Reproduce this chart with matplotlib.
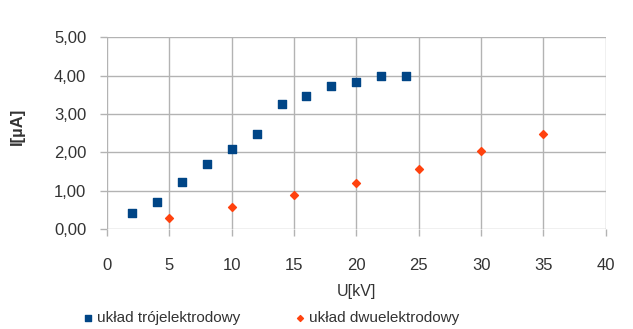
import matplotlib.pyplot as plt
from matplotlib.ticker import FuncFormatter

plt.rcParams['font.family'] = ['Liberation Sans', 'DejaVu Sans']

# data
u_troj = [2, 4, 6, 8, 10, 12, 14, 16, 18, 20, 22, 24]
i_troj = [0.42, 0.70, 1.22, 1.69, 2.10, 2.47, 3.25, 3.47, 3.73, 3.83, 3.99, 3.99]
u_dwu = [5, 10, 15, 20, 25, 30, 35]
i_dwu = [0.29, 0.59, 0.89, 1.20, 1.57, 2.03, 2.48]

label_troj = 'układ trójelektrodowy'
label_dwu = 'układ dwuelektrodowy'

txt = '#333333'
grid_c = '#b3b3b3'

fig = plt.figure(figsize=(6.33, 3.29), dpi=100)
ax = fig.add_axes([0.169, 0.303, 0.788, 0.584])

ax.scatter(u_troj, i_troj, marker='s', s=36, color='#004586', label=label_troj, zorder=3)
ax.scatter(u_dwu, i_dwu, marker='D', s=16, color='#ff420e', label=label_dwu, zorder=3)

ax.set_xlim(0, 40)
ax.set_ylim(0, 5)
ax.set_xticks(range(0, 41, 5))
ax.set_yticks([0, 1, 2, 3, 4, 5])
ax.yaxis.set_major_formatter(FuncFormatter(lambda v, p: f'{v:.2f}'.replace('.', ',')))

ax.grid(True, color=grid_c, lw=1)
ax.set_axisbelow(True)
for s in ax.spines.values():
    s.set_visible(False)
ax.tick_params(length=5, width=1, color=grid_c, labelsize=12, labelcolor=txt)
ax.tick_params(axis='x', pad=16)
ax.tick_params(axis='y', pad=10)

ax.set_xlabel('U[kV]', fontsize=11.5, color=txt)
ax.xaxis.set_label_coords(0.5, -0.285)
ax.set_ylabel('I[µA]', fontsize=12, color=txt, fontweight='bold')
ax.yaxis.set_label_coords(-0.164, 0.534)

fig.legend(loc='center left', bbox_to_anchor=(0.127, 0.033), ncol=2, frameon=False,
           fontsize=11, labelcolor=txt, handlelength=1.0, handletextpad=0.1,
           columnspacing=3.4, borderpad=0, borderaxespad=0, markerscale=0.75)

fig.savefig('out.png', dpi=100, facecolor='white')
